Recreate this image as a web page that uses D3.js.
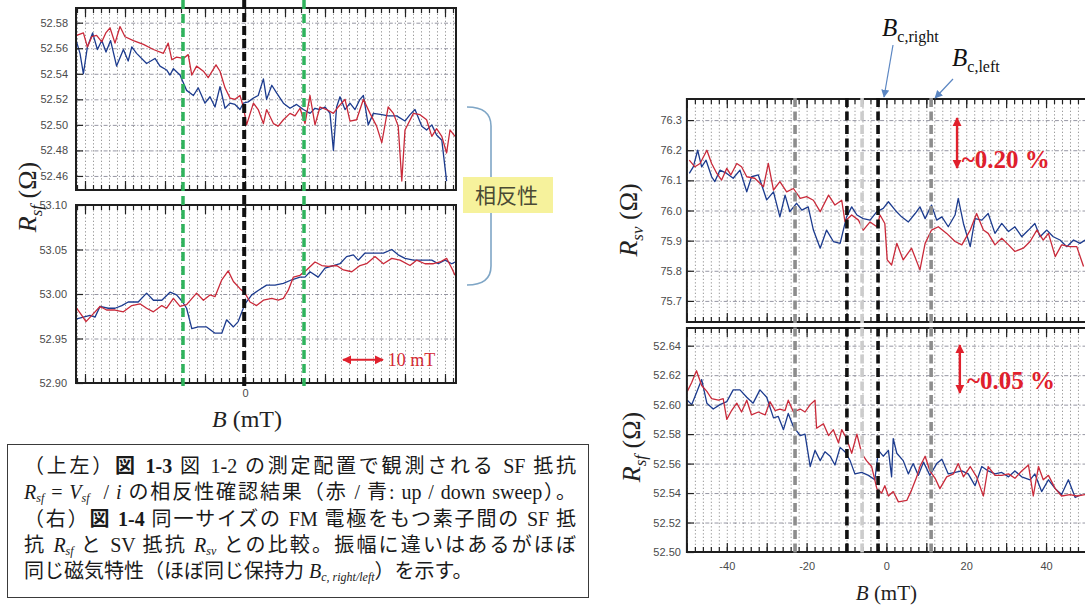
<!DOCTYPE html>
<html>
<head>
<meta charset="utf-8">
<script src="https://cdn.jsdelivr.net/npm/d3@7"></script>
<style>
  body { margin: 0; background: #fff; overflow: hidden; }
  #fig { position: absolute; left: 0; top: 0; }
  #caption {
    position: absolute; box-sizing: border-box;
    border: 1.6px solid #3a3a3a; background: #fff; color: #1a1a1a;
    font-family: "Liberation Serif", "Noto Sans CJK JP", serif;
    font-size: 20px; line-height: 26.3px;
  }
  #caption .ln { white-space: nowrap; text-align: justify; text-align-last: justify; }
  #caption .ln.last { text-align-last: left; }
  #caption b { font-weight: bold; }
  #caption sub { font-size: 12px; font-style: italic; vertical-align: -3px; line-height: 0; }
</style>
</head>
<body>
<svg id="fig" width="1085" height="605"></svg>
<script>
// ---- data (B in mT, R in ohm) ----

// upper left: R_sf, first device
const tlRedB = [-42.1,-40.4,-39.4,-38.3,-37.1,-35.8,-34.8,-33.75,-32.5,-31.25,-30,-27.9,-25.4,-22.9,-20.4,-19.2,-18.3,-17.1,-15.4,-14.2,-13.3,-12.1,-10.4,-9.2,-7.25,-6.25,-5,-3.75,-2.5,-1.25,-0.4,0.4,2.1,3.3,4.6,5.4,7.1,8.3,9.6,11.25,12.5,13.75,15,16.25,17.5,18.75,20.4,22.1,23.3,25,26.25,27.9,29.6,31.25,32.9,34.2,35.8,37.1,38.3,39.2,40,42.1,43.75,45.4,46.7,47.9,49.2,50.4,51.25,52.5];
const tlRedR = [52.570,52.572,52.561,52.569,52.570,52.565,52.572,52.576,52.564,52.577,52.569,52.566,52.563,52.559,52.556,52.564,52.551,52.553,52.552,52.555,52.539,52.546,52.542,52.537,52.547,52.542,52.529,52.521,52.520,52.523,52.514,52.500,52.517,52.512,52.501,52.512,52.501,52.499,52.504,52.509,52.507,52.513,52.501,52.523,52.500,52.514,52.512,52.509,52.514,52.520,52.503,52.504,52.520,52.509,52.499,52.486,52.514,52.509,52.499,52.456,52.496,52.509,52.508,52.504,52.491,52.497,52.491,52.478,52.496,52.491];
const tlBlueB = [-42.1,-41.25,-40.4,-39.4,-38.1,-36.9,-35.8,-34.75,-33.6,-32.1,-30.4,-29.2,-28.3,-27.1,-24.6,-22.5,-21.25,-19.6,-18.75,-17.9,-16.25,-14.6,-12.9,-11.7,-10,-8.75,-7.5,-6.25,-5,-3.75,-2.5,-1.25,-0.4,0.8,2.1,3.3,4.6,5.4,6.7,7.9,9.6,11.25,12.9,14.6,16.25,17.5,18.75,20,21.25,22.1,22.9,23.75,25,26.25,27.5,28.75,29.6,30.8,32.1,34.2,35.8,37.9,40,41.25,42.5,44.2,45.4,46.7,47.9,49.2,50.4];
const tlBlueR = [52.565,52.556,52.540,52.561,52.572,52.559,52.566,52.557,52.566,52.546,52.559,52.550,52.561,52.556,52.548,52.552,52.546,52.543,52.539,52.544,52.539,52.527,52.523,52.529,52.517,52.522,52.514,52.530,52.513,52.517,52.516,52.512,52.517,52.518,52.521,52.523,52.536,52.520,52.531,52.525,52.517,52.513,52.516,52.512,52.509,52.513,52.512,52.514,52.509,52.480,52.514,52.522,52.512,52.517,52.512,52.520,52.523,52.500,52.509,52.508,52.507,52.507,52.503,52.508,52.512,52.499,52.496,52.500,52.492,52.488,52.456];

// lower left: R_sf, reversed configuration
const blRedB = [-42.1,-40.8,-39.75,-38.3,-36.25,-34.6,-32.5,-30.4,-28.3,-26.25,-24.6,-22.9,-20.8,-19.6,-17.9,-16.25,-14.6,-12.1,-10.4,-8.75,-7.5,-5.8,-4.2,-2.9,-1.25,0,1.25,2.9,4.6,6.7,8.3,9.6,10.8,12.1,13.75,15.4,17.5,19.2,20.8,22.9,24.6,26.7,28.75,30.4,32.5,34.6,36.7,38.75,41.25,42.9,45,47.1,48.75,50.4,51.7,52.5];
const blRedR = [52.984,52.976,52.969,52.976,52.986,52.982,52.982,52.980,52.987,52.989,52.984,52.980,52.987,52.984,52.995,52.986,52.988,53.001,52.993,52.999,52.997,53.016,53.026,53.014,53.006,53.001,52.991,52.987,52.993,52.995,52.993,52.995,53.004,53.019,53.021,53.027,53.036,53.032,53.031,53.032,53.027,53.025,53.032,53.034,53.042,53.034,53.040,53.038,53.032,53.038,53.034,53.034,53.036,53.040,53.029,53.021];
const blBlueB = [-42.1,-40.4,-38.75,-37.5,-36.25,-34.2,-32.5,-30.8,-29.2,-26.7,-24.6,-22.9,-20.8,-18.75,-17.1,-15.6,-14.6,-13.3,-11.7,-9.6,-7.5,-5.8,-4.6,-2.9,-1.7,0,1.7,3.3,5.4,7.5,9.6,11.7,13.75,15,16.25,18.3,20,22.1,23.75,25.4,27.1,28.3,30,32.1,34.6,36.7,38.3,40,42.1,44.6,46.7,48.3,50,51.7,52.5];
const blBlueR = [52.972,52.974,52.976,52.974,52.986,52.984,52.984,52.987,52.991,52.991,53.001,52.993,52.993,53.002,52.999,52.991,52.984,52.961,52.963,52.963,52.956,52.956,52.971,52.963,52.969,52.989,52.999,53.004,53.010,53.010,53.012,53.016,53.019,53.019,53.025,53.019,53.029,53.032,53.034,53.042,53.044,53.038,53.046,53.046,53.046,53.050,53.044,53.040,53.038,53.038,53.038,53.034,53.038,53.034,53.036];

// upper right: R_sv
const trRedB = [-49.4,-48.0,-46.7,-45.0,-43.8,-42.5,-41.3,-40.0,-39.0,-37.5,-36.3,-35.0,-33.0,-30.8,-29.6,-28.3,-26.7,-25.0,-23.3,-21.6,-20.0,-18.3,-16.6,-14.5,-12.9,-11.2,-10.4,-8.7,-7.0,-5.8,-4.1,-2.4,-1.6,-0.4,0.2,1.3,2.6,4.2,6.3,8.4,9.7,11.3,13.0,15.1,17.2,18.9,21.0,22.6,24.3,25.5,27.2,28.9,30.6,32.2,34.3,36.0,37.7,39.3,40.6,42.3,43.9,46.0,47.7,49.4];
const trRedR = [76.167,76.145,76.156,76.200,76.156,76.123,76.101,76.140,76.118,76.156,76.145,76.112,76.107,76.079,76.156,76.068,76.096,76.062,76.073,76.040,76.046,76.034,75.996,76.051,76.018,76.034,75.964,75.985,75.968,75.935,75.962,75.946,75.985,75.957,75.836,75.819,75.891,75.836,75.875,75.803,75.891,75.935,75.946,75.924,75.897,75.886,75.935,75.990,75.935,75.924,75.886,75.908,75.886,75.864,75.875,75.897,75.935,75.902,75.924,75.847,75.886,75.880,75.880,75.814];
const trBlueB = [-49.4,-48.4,-47.3,-46.3,-45.2,-43.8,-43.0,-41.7,-40.0,-38.4,-36.7,-35.0,-33.8,-32.1,-30.0,-28.3,-26.7,-25.4,-24.2,-22.5,-21.2,-19.6,-18.3,-16.6,-15.0,-13.3,-11.6,-10.0,-8.7,-7.4,-5.8,-4.1,-2.4,-0.8,0.5,2.2,3.8,5.5,7.2,8.4,9.7,11.3,12.6,13.9,15.5,17.2,18.0,19.3,21.0,22.2,23.9,25.5,27.2,28.9,30.6,32.2,33.9,35.6,37.2,38.5,40.2,41.8,43.5,45.2,46.9,48.5,49.8];
const trBlueR = [76.123,76.145,76.200,76.145,76.167,76.112,76.096,76.134,76.123,76.107,76.134,76.062,76.112,76.118,76.035,76.062,75.979,76.051,75.996,76.024,76.001,76.012,75.935,75.875,75.935,75.897,75.891,75.979,76.012,75.985,75.973,75.968,75.996,76.007,76.029,76.001,75.979,75.962,75.990,76.012,75.973,76.018,75.968,75.979,75.946,75.985,76.040,75.957,75.880,75.973,75.968,75.990,75.924,75.957,75.930,75.946,75.913,75.935,75.957,75.913,75.935,75.913,75.902,75.880,75.902,75.891,75.902];

// lower right: R_sf
const brRedB = [-49.9,-48.8,-47.6,-46.3,-45.0,-43.8,-42.1,-40.9,-40.0,-38.8,-37.5,-36.3,-35.0,-33.8,-32.1,-30.4,-29.2,-27.9,-26.7,-25.4,-24.6,-23.3,-21.6,-20.4,-19.1,-17.9,-17.5,-15.8,-14.5,-13.3,-12.0,-11.2,-10.0,-8.7,-7.4,-6.2,-5.0,-3.7,-2.4,-1.2,-0.4,0.5,1.7,3.0,5.1,6.3,7.6,8.4,9.7,10.9,12.2,13.4,15.1,16.8,18.0,19.3,21.0,22.6,24.3,25.5,27.2,28.9,30.6,32.2,33.9,35.6,36.8,38.1,39.3,40.6,42.3,43.9,46.0,47.7,49.8];
const brRedR = [52.609,52.615,52.623,52.613,52.609,52.604,52.603,52.604,52.590,52.596,52.601,52.595,52.603,52.593,52.595,52.593,52.602,52.596,52.597,52.596,52.603,52.595,52.597,52.595,52.600,52.603,52.584,52.587,52.579,52.583,52.574,52.583,52.577,52.567,52.580,52.567,52.562,52.558,52.543,52.540,52.545,52.538,52.541,52.534,52.535,52.542,52.551,52.558,52.565,52.555,52.550,52.543,52.551,52.553,52.560,52.551,52.558,52.551,52.538,52.558,52.552,52.552,52.553,52.550,52.555,52.559,52.538,52.558,52.549,52.552,52.543,52.538,52.539,52.538,52.539];
const brBlueB = [-49.9,-48.8,-47.6,-46.3,-45.0,-43.4,-41.7,-40.0,-38.4,-36.7,-35.0,-33.4,-31.7,-30.0,-28.3,-27.1,-25.8,-24.6,-23.3,-21.6,-20.4,-19.1,-17.9,-16.6,-15.4,-14.1,-12.9,-11.6,-10.4,-9.1,-7.9,-6.2,-4.5,-2.9,-2.0,-0.8,0.5,1.3,1.7,2.6,4.2,5.5,6.7,8.0,9.3,10.9,12.6,13.9,15.5,17.2,18.9,20.5,22.2,23.9,25.5,27.2,28.9,30.6,32.2,33.9,36.0,37.2,38.9,40.6,42.3,43.9,45.6,47.3,48.9];
const brBlueR = [52.603,52.600,52.608,52.617,52.601,52.597,52.600,52.602,52.610,52.610,52.605,52.601,52.610,52.605,52.591,52.592,52.583,52.594,52.585,52.579,52.580,52.558,52.569,52.562,52.568,52.565,52.559,52.571,52.568,52.562,52.553,52.554,52.552,52.549,52.569,52.565,52.569,52.551,52.577,52.567,52.562,52.553,52.560,52.552,52.561,52.552,52.560,52.563,52.553,52.554,52.555,52.553,52.545,52.558,52.555,52.553,52.554,52.551,52.555,52.551,52.549,52.553,52.541,52.549,52.543,52.539,52.549,52.537,52.539];

// tick labels
const tlTicks = [52.46, 52.48, 52.50, 52.52, 52.54, 52.56, 52.58];
const blTicks = [52.90, 52.95, 53.00, 53.05, 53.10];
const trTicks = [75.7, 75.8, 75.9, 76.0, 76.1, 76.2, 76.3];
const brTicks = [52.50, 52.52, 52.54, 52.56, 52.58, 52.60, 52.62, 52.64];
const leftBTicks = [0];
const rightBTicks = [-40, -20, 0, 20, 40];

// coercive-field guide lines (mT)
const leftGreenB = [-15.5, 14.75];
const leftBlackB = [-0.2];
const rightGuides = [
  {b: -22.9, c: '#8d8d8d'}, {b: -9.9, c: '#111'}, {b: -6.1, c: '#cccccc'},
  {b: -2.1, c: '#111'}, {b: 11.2, c: '#8d8d8d'}
];

const RED = '#c92a3a', BLUE = '#1c3b8e';
const SANS = '"Liberation Sans", Arial, sans-serif';
const SERIF = '"Liberation Serif", "Times New Roman", serif';

const svg = d3.select('#fig');
const defs = svg.append('defs');
function marker(id, color, w, h) {
  defs.append('marker').attr('id', id)
    .attr('viewBox', '0 0 10 10').attr('refX', 9).attr('refY', 5)
    .attr('markerWidth', w).attr('markerHeight', h)
    .attr('markerUnits', 'userSpaceOnUse')
    .attr('orient', 'auto-start-reverse')
    .append('path').attr('d', 'M0,0 L10,5 L0,10 Z').attr('fill', color);
}
marker('arBlue', '#5b86c2', 8, 9);
marker('arRed', '#e0202c', 9, 10);

// scales
const xL = d3.scaleLinear().domain([-42.25, 52.75]).range([76, 456]);
const xR = d3.scaleLinear().domain([-50, 55]).range([686.9, 1105.9]);
const yTL = d3.scaleLinear().domain([52.449, 52.5915]).range([190, 8]);
const yBL = d3.scaleLinear().domain([52.90, 53.10]).range([383, 205]);
const yTR = d3.scaleLinear().domain([75.63, 76.37]).range([322, 99]);
const yBR = d3.scaleLinear().domain([52.50, 52.652]).range([552, 328]);

function panel(p) {
  const g = svg.append('g');
  const [x0, x1] = p.x.range();
  const [yb, yt] = p.y.range();
  const clipId = 'clip-' + p.name;
  defs.append('clipPath').attr('id', clipId)
    .append('rect').attr('x', x0).attr('y', yt).attr('width', x1 - x0).attr('height', yb - yt);

  const minor = d3.range(Math.ceil(p.x.domain()[0] / 2) * 2, p.x.domain()[1], 2);
  const major = minor.filter(d => d % 10 === 0);

  // vertical dotted grid
  g.append('g').attr('transform', `translate(0,${yb})`)
    .call(d3.axisBottom(p.x).tickValues(minor).tickSize(-(yb - yt)).tickFormat(''))
    .call(a => a.select('.domain').remove())
    .selectAll('line').attr('stroke', '#8f8f8f').attr('stroke-width', 0.9).attr('stroke-dasharray', '1.3,2.2');

  // horizontal dash-dot grid
  g.append('g').attr('transform', `translate(${x0},0)`)
    .call(d3.axisLeft(p.y).tickValues(p.ticks).tickSize(-(x1 - x0)).tickFormat(''))
    .call(a => a.select('.domain').remove())
    .selectAll('line').attr('stroke', '#8a8a98').attr('stroke-width', 0.9).attr('stroke-dasharray', '4,2,1.2,2');

  // traces
  const line = d3.line().x(d => p.x(d[0])).y(d => p.y(d[1]));
  const tg = g.append('g').attr('clip-path', `url(#${clipId})`);
  tg.append('path').datum(d3.zip(p.blueB, p.blueR)).attr('d', line)
    .attr('fill', 'none').attr('stroke', BLUE).attr('stroke-width', 1.3).attr('stroke-linejoin', 'round');
  tg.append('path').datum(d3.zip(p.redB, p.redR)).attr('d', line)
    .attr('fill', 'none').attr('stroke', RED).attr('stroke-width', 1.3).attr('stroke-linejoin', 'round');

  // inward ticks on bottom and top
  const tickStyle = s => s.call(a => a.select('.domain').remove())
    .selectAll('line').attr('stroke', '#222').attr('stroke-width', 1.2);
  g.append('g').attr('transform', `translate(0,${yb})`)
    .call(d3.axisBottom(p.x).tickValues(minor).tickSize(-5).tickFormat('')).call(tickStyle);
  g.append('g').attr('transform', `translate(0,${yb})`)
    .call(d3.axisBottom(p.x).tickValues(major).tickSize(-9).tickFormat('')).call(tickStyle);
  g.append('g').attr('transform', `translate(0,${yt})`)
    .call(d3.axisTop(p.x).tickValues(minor).tickSize(-5).tickFormat('')).call(tickStyle);
  g.append('g').attr('transform', `translate(0,${yt})`)
    .call(d3.axisTop(p.x).tickValues(major).tickSize(-9).tickFormat('')).call(tickStyle);
  g.append('g').attr('transform', `translate(${x0},0)`)
    .call(d3.axisLeft(p.y).tickValues(p.ticks).tickSize(-7).tickFormat('')).call(tickStyle);

  // frame
  g.append('rect').attr('x', x0).attr('y', yt).attr('width', x1 - x0).attr('height', yb - yt)
    .attr('fill', 'none').attr('stroke', '#1e1e1e').attr('stroke-width', 2);

  // y tick labels
  g.append('g').attr('transform', `translate(${x0},0)`)
    .call(d3.axisLeft(p.y).tickValues(p.ticks).tickSize(0).tickPadding(p.pad).tickFormat(p.fmt))
    .call(a => a.select('.domain').remove())
    .selectAll('text').attr('font-family', SANS).attr('font-size', 11).attr('fill', '#4a4a4a');

  // x tick labels
  if (p.xTicks) {
    g.append('g').attr('transform', `translate(0,${yb})`)
      .call(d3.axisBottom(p.x).tickValues(p.xTicks).tickSize(0).tickPadding(p.xPad)
        .tickFormat(d => d < 0 ? '-' + Math.abs(d) : String(d)))
      .call(a => a.select('.domain').remove())
      .selectAll('text').attr('font-family', SANS).attr('font-size', 11).attr('fill', '#4a4a4a');
  }
}

panel({name: 'tl', x: xL, y: yTL, ticks: tlTicks, fmt: d3.format('.2f'), pad: 8,
  redB: tlRedB, redR: tlRedR, blueB: tlBlueB, blueR: tlBlueR});
panel({name: 'bl', x: xL, y: yBL, ticks: blTicks, fmt: d3.format('.2f'), pad: 9,
  redB: blRedB, redR: blRedR, blueB: blBlueB, blueR: blBlueR, xTicks: leftBTicks, xPad: 6});
panel({name: 'tr', x: xR, y: yTR, ticks: trTicks, fmt: d3.format('.1f'), pad: 5,
  redB: trRedB, redR: trRedR, blueB: trBlueB, blueR: trBlueR});
panel({name: 'br', x: xR, y: yBR, ticks: brTicks, fmt: d3.format('.2f'), pad: 6,
  redB: brRedB, redR: brRedR, blueB: brBlueB, blueR: brBlueR, xTicks: rightBTicks, xPad: 10});

// guide lines, left
svg.append('g').selectAll('line').data(leftGreenB).join('line')
  .attr('x1', d => xL(d)).attr('x2', d => xL(d)).attr('y1', 0).attr('y2', 386)
  .attr('stroke', '#2fb35c').attr('stroke-width', 3.5).attr('stroke-dasharray', '9,5');
svg.append('g').selectAll('line').data(leftBlackB).join('line')
  .attr('x1', d => xL(d)).attr('x2', d => xL(d)).attr('y1', 0).attr('y2', 389)
  .attr('stroke', '#111').attr('stroke-width', 4).attr('stroke-dasharray', '9,4');
// guide lines, right
svg.append('g').selectAll('line').data(rightGuides).join('line')
  .attr('x1', d => xR(d.b)).attr('x2', d => xR(d.b)).attr('y1', 98).attr('y2', 555)
  .attr('stroke', d => d.c).attr('stroke-width', 3.6).attr('stroke-dasharray', '9,4.5');

// 10 mT scale arrow
const scaleY = 52.926;
svg.append('line').attr('x1', xL(24.5)).attr('x2', xL(34.5)).attr('y1', yBL(scaleY)).attr('y2', yBL(scaleY))
  .attr('stroke', '#e0202c').attr('stroke-width', 2)
  .attr('marker-start', 'url(#arRed)').attr('marker-end', 'url(#arRed)');
svg.append('text').attr('x', xL(35.7)).attr('y', yBL(scaleY) + 6)
  .attr('font-family', SERIF).attr('font-size', 18).attr('fill', '#d42a33').text('10 mT');

// percentage arrows on the right
const pctMarks = [
  {y: yTR, b: 17.7, from: 76.307, to: 76.141, label: '~0.20 %', lx: 18.9, ly: 76.14},
  {y: yBR, b: 18.4, from: 52.6404, to: 52.608, label: '~0.05 %', lx: 20.2, ly: 52.6105}
];
pctMarks.forEach(m => {
  svg.append('line').attr('x1', xR(m.b)).attr('x2', xR(m.b)).attr('y1', m.y(m.from)).attr('y2', m.y(m.to))
    .attr('stroke', '#e0202c').attr('stroke-width', 2.4)
    .attr('marker-start', 'url(#arRed)').attr('marker-end', 'url(#arRed)');
  svg.append('text').attr('x', xR(m.lx)).attr('y', m.y(m.ly))
    .attr('font-family', SERIF).attr('font-size', 25).attr('font-weight', 'bold').attr('fill', '#e0202c')
    .text(m.label);
});

// B_c labels with arrows
function bcLabel(x, y, sub) {
  const t = svg.append('text').attr('x', x).attr('y', y).attr('font-family', SERIF).attr('fill', '#111');
  t.append('tspan').attr('font-style', 'italic').attr('font-size', 25).text('B');
  t.append('tspan').attr('font-size', 16).attr('dy', 6).text(sub);
}
bcLabel(882, 36, 'c,right');
bcLabel(952, 66, 'c,left');
svg.append('line').attr('x1', 893).attr('y1', 45).attr('x2', xR(-0.6)).attr('y2', 97)
  .attr('stroke', '#5b86c2').attr('stroke-width', 1.2).attr('marker-end', 'url(#arBlue)');
svg.append('line').attr('x1', 953).attr('y1', 79).attr('x2', xR(12.2)).attr('y2', 98)
  .attr('stroke', '#5b86c2').attr('stroke-width', 1.2).attr('marker-end', 'url(#arBlue)');

// axis titles
function rLabel(x, y, sub) {
  const t = svg.append('text').attr('transform', `translate(${x},${y}) rotate(-90)`)
    .attr('text-anchor', 'middle').attr('font-family', SERIF).attr('font-size', 26).attr('fill', '#222');
  t.append('tspan').attr('font-style', 'italic').text('R');
  t.append('tspan').attr('font-style', 'italic').attr('font-size', 17).attr('dy', 6).text(sub);
  t.append('tspan').attr('dy', -6).text(' (Ω)');
}
rLabel(36, 197, 'sf');
rLabel(637, 220, 'sv');
rLabel(640, 447, 'sf');

function bLabel(x, y, size) {
  const t = svg.append('text').attr('x', x).attr('y', y).attr('text-anchor', 'middle')
    .attr('font-family', SERIF).attr('font-size', size).attr('fill', '#222');
  t.append('tspan').attr('font-style', 'italic').text('B');
  t.append('tspan').text(' (mT)');
}
bLabel(xL(0) + 2, 427, 24);
bLabel(xR(0), 600, 21);

// reciprocity brace and tag
svg.append('path').attr('d', 'M467,107 Q491,107 491,126 L491,266 Q491,285 467,285')
  .attr('fill', 'none').attr('stroke', '#7fa6c6').attr('stroke-width', 1.6);
svg.append('rect').attr('x', 463).attr('y', 177).attr('width', 90).attr('height', 36).attr('fill', '#f6f29c');
svg.append('text').attr('x', 475).attr('y', 203).attr('font-family', '"Noto Sans CJK JP", sans-serif')
  .attr('font-size', 21).attr('fill', '#4a4a34').text('相反性');

// caption
const captionLines = [
  '（上左）<b>図 1-3</b> 図 1-2 の測定配置で観測される SF 抵抗',
  '<i>R</i><sub>sf</sub> = <i>V</i><sub>sf</sub> &nbsp;/ <i>i</i> の相反性確認結果（赤 / 青: up / down sweep）。',
  '（右）<b>図 1-4</b> 同一サイズの FM 電極をもつ素子間の SF 抵',
  '抗 <i>R</i><sub>sf</sub> と SV 抵抗 <i>R</i><sub>sv</sub> との比較。振幅に違いはあるがほぼ',
  '同じ磁気特性（ほぼ同じ保持力 <i>B</i><sub>c, right/left</sub>）を示す。'
];
const cap = d3.select('body').append('div').attr('id', 'caption')
  .style('left', '7px').style('top', '444px').style('width', '582px').style('height', '154px')
  .style('padding', '8px 12px 0 16px');
cap.selectAll('div').data(captionLines).join('div')
  .attr('class', (d, i) => i === captionLines.length - 1 ? 'ln last' : 'ln')
  .html(d => d);
</script>
</body>
</html>
